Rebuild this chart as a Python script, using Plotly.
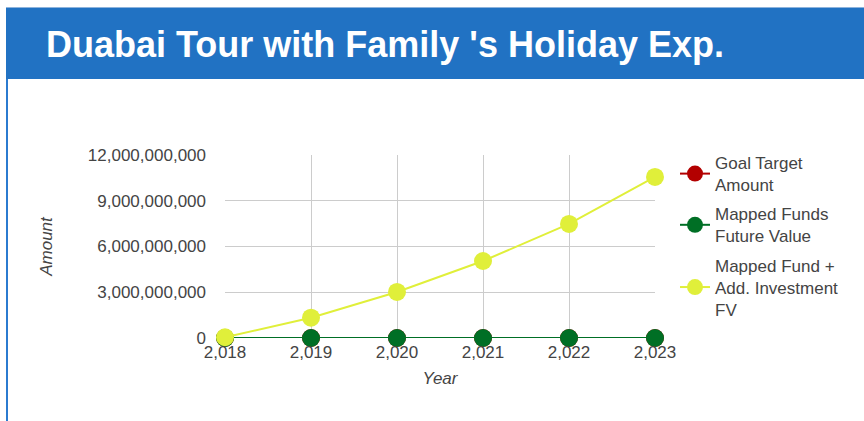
import plotly.graph_objects as go

years = [2018, 2019, 2020, 2021, 2022, 2023]
goal_target = [0, 0, 0, 0, 0, 0]
mapped_fv = [0, 0, 0, 0, 0, 0]
mapped_plus_add = [50_000_000, 1_330_000_000, 3_020_000_000, 5_050_000_000, 7_480_000_000, 10_560_000_000]
y_ticks = [0, 3_000_000_000, 6_000_000_000, 9_000_000_000, 12_000_000_000]

series = [
    ("Goal Target<br>Amount", goal_target, "#b30000"),
    ("Mapped Funds<br>Future Value", mapped_fv, "#006f25"),
    ("Mapped Fund +<br>Add. Investment<br>FV", mapped_plus_add, "#e0ef3a"),
]

W, H = 864, 421
L, R, T, B = 225, 655, 155, 338
pw, ph = R - L, B - T

def px(x):
    return (x - L) / pw

def py(y):
    return (B - y) / ph

FONT = "Arial, Liberation Sans, sans-serif"

fig = go.Figure()
for i, (name, vals, color) in enumerate(series):
    fig.add_trace(go.Scatter(
        x=years, y=vals, name=name, mode="lines+markers",
        line=dict(color=color, width=2),
        marker=dict(color=color, size=18),
        cliponaxis=False, legendgroup=str(i),
    ))

fig.update_layout(
    width=W, height=H,
    margin=dict(l=L, r=W - R, t=T, b=H - B, pad=0),
    paper_bgcolor="white", plot_bgcolor="white",
    font=dict(family=FONT, size=17, color="#444"),
    showlegend=True,
    legend=dict(x=px(675), y=py(145), xanchor="left", yanchor="top",
                font=dict(size=17, color="#444"), tracegroupgap=4,
                bgcolor="rgba(0,0,0,0)", itemwidth=30),
    xaxis=dict(range=[2018, 2023], tickvals=years, tickformat=",d",
               showgrid=True, gridcolor="#cccccc", gridwidth=1,
               zeroline=False, showline=False, ticks="",
               ticklabelstandoff=2,
               title=dict(text="<i>Year</i>", font=dict(size=17, color="#444"), standoff=11)),
    yaxis=dict(range=[0, 12_000_000_000], tickvals=y_ticks, tickformat=",d",
               showgrid=True, gridcolor="#cccccc", gridwidth=1,
               zeroline=False, showline=False, ticks="",
               ticklabelstandoff=18,
               title=dict(text="<i>Amount</i>", font=dict(size=17, color="#444"), standoff=30)),
)

# header bar
fig.add_shape(type="rect", xref="paper", yref="paper",
              x0=px(6), x1=px(880), y0=py(79), y1=py(7),
              fillcolor="#2172c3", line=dict(width=0), layer="below")
fig.add_shape(type="line", xref="paper", yref="paper",
              x0=px(6), x1=px(880), y0=py(7.5), y1=py(7.5),
              line=dict(color="#8db3dc", width=1))
# left border
fig.add_shape(type="line", xref="paper", yref="paper",
              x0=px(7), x1=px(7), y0=py(79), y1=py(430),
              line=dict(color="#2b7bd0", width=2))
fig.add_annotation(xref="paper", yref="paper", x=px(44), y=py(44),
                   xanchor="left", yanchor="middle", showarrow=False,
                   text="<b>Duabai Tour with Family 's Holiday Exp.</b>",
                   font=dict(family=FONT, size=36, color="white"))

fig.write_html("out.html", config={"displayModeBar": False},
               post_script="document.body.style.margin='0';document.body.style.overflow='hidden';")
